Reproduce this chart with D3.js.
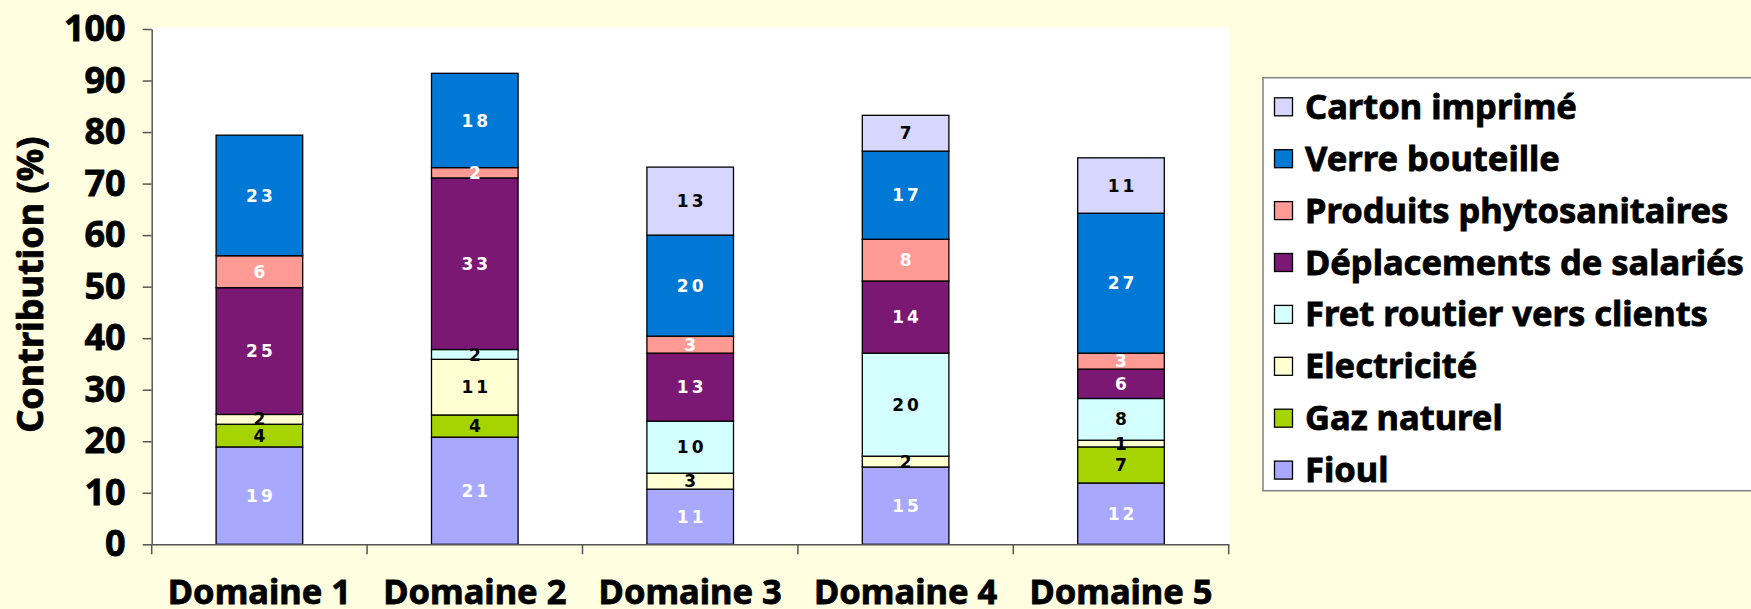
<!DOCTYPE html>
<html>
<head>
<meta charset="utf-8">
<script src="https://cdn.jsdelivr.net/npm/d3@7"></script>
<style>
  html, body { margin: 0; padding: 0; background: #FFFEE0; }
  svg { display: block; }
  text { font-family: "Noto Sans", sans-serif; font-weight: bold; }
  .heavy { stroke: #000; stroke-width: 0.8px; }
</style>
</head>
<body>
<svg id="chart" width="1751" height="609"></svg>
<script>
// ---- Data (stack order: bottom to top) ----
const categories = ["Domaine 1", "Domaine 2", "Domaine 3", "Domaine 4", "Domaine 5"];
const seriesNames = ["Fioul", "Gaz naturel", "Electricité", "Fret routier vers clients",
  "Déplacements de salariés", "Produits phytosanitaires", "Verre bouteille", "Carton imprimé"];
const fioul   = [18.9, 20.8, 10.7, 15.0, 11.9];
const gaz     = [4.4, 4.3, 0, 0, 7.0];
const elec    = [1.9, 10.8, 3.1, 2.1, 1.3];
const fret    = [0, 1.9, 10.1, 20.0, 8.1];
const depl    = [24.6, 33.3, 13.2, 14.0, 5.7];
const prod    = [6.2, 2.0, 3.3, 8.1, 3.1];
const verre   = [23.4, 18.3, 19.6, 17.1, 27.15];
const carton  = [0, 0, 13.2, 6.95, 10.75];
const yTicks  = [0, 10, 20, 30, 40, 50, 60, 70, 80, 90, 100];

const seriesValues = [fioul, gaz, elec, fret, depl, prod, verre, carton];
const colors = ["#A8A8FF", "#A6D400", "#FFFFD2", "#D4FFFF", "#7A1874", "#FF9A94", "#0079D6", "#D6D6FF"];
const labelColors = ["#fff", "#000", "#000", "#000", "#fff", "#fff", "#fff", "#000"];

const rows = categories.map((c, i) => {
  const r = { cat: c };
  seriesNames.forEach((s, k) => r[s] = seriesValues[k][i]);
  return r;
});

const svg = d3.select("#chart");
const plot = { left: 151.7, right: 1228.7, top: 29, bottom: 544.3 };

const x = d3.scaleBand().domain(categories).range([plot.left, plot.right]).paddingInner(0).paddingOuter(0);
const y = d3.scaleLinear().domain([0, 100]).range([plot.bottom, plot.top]);
const barW = x.bandwidth() * 0.402;

// plot background
svg.append("rect")
  .attr("x", plot.left).attr("y", plot.top - 1.7)
  .attr("width", plot.right - plot.left).attr("height", plot.bottom - plot.top + 1.7)
  .attr("fill", "#fff");

const stack = d3.stack().keys(seriesNames);
const stacked = stack(rows);

const gBars = svg.append("g");
stacked.forEach((layer, k) => {
  const g = gBars.append("g");
  g.selectAll("rect").data(layer.filter(d => d[1] - d[0] > 0)).join("rect")
    .attr("x", d => x(d.data.cat) + x.bandwidth() / 2 - barW / 2)
    .attr("width", barW)
    .attr("y", d => y(d[1]))
    .attr("height", d => y(d[0]) - y(d[1]))
    .attr("fill", colors[k])
    .attr("stroke", "#000")
    .attr("stroke-width", 1.3);
});

// segment labels
stacked.forEach((layer, k) => {
  gBars.append("g").selectAll("text").data(layer.filter(d => d[1] - d[0] > 0)).join("text")
    .attr("x", d => x(d.data.cat) + x.bandwidth() / 2 + 1.5)
    .attr("y", d => (y(d[0]) + y(d[1])) / 2)
    .attr("dy", "0.36em")
    .attr("text-anchor", "middle")
    .style("font-family", "'DejaVu Sans', sans-serif")
    .style("font-size", "17px")
    .style("letter-spacing", "3px")
    .attr("fill", labelColors[k])
    .text(d => d3.format(".0f")(d[1] - d[0]));
});

// Y axis
const yAxis = svg.append("g")
  .attr("transform", `translate(${plot.left},0)`)
  .call(d3.axisLeft(y).tickValues(yTicks).tickSize(9).tickPadding(17).tickSizeOuter(0));
yAxis.select(".domain").attr("stroke", "#555").attr("stroke-width", 1.5);
yAxis.selectAll(".tick line").attr("stroke", "#555").attr("stroke-width", 1.5);
yAxis.selectAll("text").attr("class", "heavy").style("font-size", "36px").attr("fill", "#000");

// X axis
const xAxis = svg.append("g")
  .attr("transform", `translate(0,${plot.bottom})`)
  .call(d3.axisBottom(x).tickSize(0).tickPadding(35).tickSizeOuter(0));
xAxis.select(".domain").attr("stroke", "#555").attr("stroke-width", 1.5);
xAxis.selectAll("text").attr("class", "heavy").style("font-size", "34.5px").attr("fill", "#000");
// boundary ticks
const bounds = categories.map(c => x(c)).concat([x.range()[1]]);
xAxis.selectAll(".btick").data(bounds).join("line")
  .attr("class", "btick")
  .attr("x1", d => d).attr("x2", d => d)
  .attr("y1", 0).attr("y2", 10)
  .attr("stroke", "#555").attr("stroke-width", 1.5);

// Y axis title
svg.append("text")
  .attr("class", "heavy")
  .attr("transform", `translate(43, ${(plot.top + plot.bottom) / 2 - 2}) rotate(-90)`)
  .attr("text-anchor", "middle")
  .style("font-size", "36px")
  .text("Contribution (%)");

// Legend
const legend = { left: 1263, top: 77.7, bottom: 490.7, right: 1770, row0: 106.8, step: 51.9 };
svg.append("rect")
  .attr("x", legend.left).attr("y", legend.top)
  .attr("width", legend.right - legend.left).attr("height", legend.bottom - legend.top)
  .attr("fill", "#fff").attr("stroke", "#808080").attr("stroke-width", 1.5);
const legendOrder = seriesNames.map((s, k) => k).reverse();
const lg = svg.append("g").selectAll("g").data(legendOrder).join("g")
  .attr("transform", (k, i) => `translate(${legend.left}, ${legend.row0 + i * legend.step})`);
lg.append("rect")
  .attr("x", 11.5).attr("y", -9).attr("width", 18).attr("height", 18)
  .attr("fill", k => colors[k]).attr("stroke", "#000").attr("stroke-width", 1.3);
lg.append("text")
  .attr("class", "heavy")
  .attr("x", 42).attr("y", 12)
  .style("font-size", "34.5px")
  .text(k => seriesNames[k]);
</script>
</body>
</html>
